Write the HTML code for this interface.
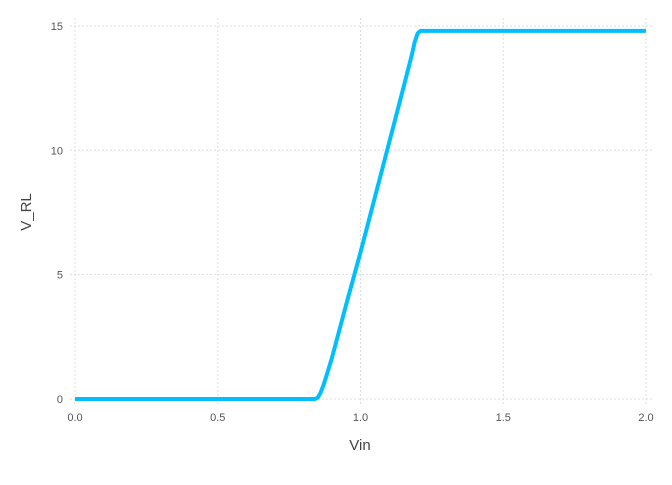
<!DOCTYPE html>
<html><head><meta charset="utf-8"><style>
body{margin:0;background:#fff;font-family:"Liberation Sans",sans-serif}
</style></head><body>
<svg id="chart" width="672" height="480" xmlns="http://www.w3.org/2000/svg">
<rect width="672" height="480" fill="#fff"/>
<g id="grid"></g>
<g id="ticks" font-size="11" fill="#555"></g>
<g id="series"></g>
<text x="360" y="450" text-anchor="middle" font-size="15" fill="#444">Vin</text>
<text transform="translate(31,212) rotate(-90)" text-anchor="middle" font-size="15" fill="#444">V_RL</text>
</svg>
<script>
const xTicks=[0,0.5,1,1.5,2];
const xTickLabels=["0.0","0.5","1.0","1.5","2.0"];
const yTicks=[0,5,10,15];
const yTickLabels=["0","5","10","15"];
const vin=[0,0.84,0.85,0.86,0.87,0.88,0.9,0.95,1.0,1.05,1.1,1.15,1.18,1.19,1.2,1.21,1.5,2.0];
const vrl=[0,0,0.05,0.25,0.55,0.9,1.65,3.8,5.9,8.1,10.3,12.5,13.85,14.35,14.7,14.8,14.8,14.8];
const NS="http://www.w3.org/2000/svg";
const sx=v=>75+v*285.5, sy=v=>399-v*24.87;
const grid=document.getElementById('grid'),ticks=document.getElementById('ticks'),series=document.getElementById('series');
function mk(tag,attrs,parent){const e=document.createElementNS(NS,tag);for(const k in attrs)e.setAttribute(k,attrs[k]);parent.appendChild(e);return e;}
xTicks.forEach((t,i)=>{
 const l=mk('line',{x1:sx(t),x2:sx(t),y1:18,y2:405,stroke:'#ddd','stroke-dasharray':'2,2'},grid);
 
 
 const tx=mk('text',{x:sx(t),y:421,'text-anchor':'middle'},ticks);tx.textContent=xTickLabels[i];
 
 
});
yTicks.forEach((t,i)=>{
 const l=mk('line',{x1:70,x2:652,y1:sy(t),y2:sy(t),stroke:'#ddd','stroke-dasharray':'2,2'},grid);
 
 
 const tx=mk('text',{x:63,y:sy(t)+4,'text-anchor':'end'},ticks);tx.textContent=yTickLabels[i];
 
 
});
const d=vin.map((v,i)=>(i?'L':'M')+sx(v).toFixed(1)+','+sy(vrl[i]).toFixed(1)).join(' ');
const p=mk('path',{d:d,fill:'none',stroke:'#00bfff','stroke-width':4,'stroke-linejoin':'round'},series);


</script>
</body></html>
